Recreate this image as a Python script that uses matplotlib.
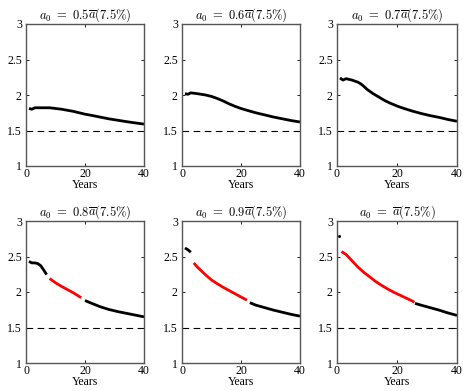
import matplotlib
matplotlib.use("Agg")
import matplotlib.pyplot as plt

plt.rcParams['mathtext.fontset'] = 'cm'
plt.rcParams['font.family'] = ['Liberation Serif', 'DejaVu Serif']

titles = [r"$a_0\ =\ 0.5\overline{a}(7.5\%)$", r"$a_0\ =\ 0.6\overline{a}(7.5\%)$",
          r"$a_0\ =\ 0.7\overline{a}(7.5\%)$", r"$a_0\ =\ 0.8\overline{a}(7.5\%)$",
          r"$a_0\ =\ 0.9\overline{a}(7.5\%)$", r"$a_0\ =\ \overline{a}(7.5\%)$"]

# Panel 1 (0.5)
p1_x = [1, 2, 3, 5, 8, 10, 12, 14, 16, 18, 20, 22, 25, 28, 31, 34, 37, 40]
p1_y = [1.81, 1.80, 1.82, 1.82, 1.82, 1.81, 1.80, 1.785, 1.77, 1.75, 1.73, 1.715, 1.69, 1.665, 1.645, 1.625, 1.607, 1.59]
# Panel 2 (0.6)
p2_x = [1, 2, 3, 5, 8, 10, 12, 14, 16, 18, 20, 22, 25, 28, 31, 34, 37, 40]
p2_y = [2.02, 2.01, 2.03, 2.02, 2.00, 1.98, 1.95, 1.915, 1.875, 1.84, 1.81, 1.785, 1.75, 1.72, 1.69, 1.665, 1.64, 1.62]
# Panel 3 (0.7)
p3_x = [1, 2, 3, 5, 7, 8, 9, 10, 12, 14, 16, 18, 20, 22, 25, 28, 31, 34, 37, 40]
p3_y = [2.24, 2.21, 2.23, 2.21, 2.18, 2.155, 2.12, 2.08, 2.02, 1.97, 1.92, 1.88, 1.845, 1.815, 1.775, 1.74, 1.71, 1.685, 1.655, 1.63]
# Panel 4 (0.8)
p4_bx1 = [1, 2, 3, 4, 5, 6, 7]
p4_by1 = [2.43, 2.41, 2.41, 2.40, 2.37, 2.31, 2.245]
p4_rx = [8, 10, 12, 14, 16, 18.7]
p4_ry = [2.19, 2.13, 2.08, 2.035, 1.99, 1.92]
p4_bx2 = [20, 22, 25, 28, 31, 34, 37, 40]
p4_by2 = [1.88, 1.845, 1.795, 1.755, 1.725, 1.70, 1.675, 1.65]
# Panel 5 (0.9)
p5_bx1 = [1, 2, 3]
p5_by1 = [2.62, 2.595, 2.56]
p5_rx = [4, 5, 6, 8, 10, 12, 14, 16, 18, 20, 22]
p5_ry = [2.41, 2.36, 2.32, 2.24, 2.17, 2.115, 2.065, 2.02, 1.975, 1.93, 1.885]
p5_bx2 = [23, 25, 28, 31, 34, 37, 40]
p5_by2 = [1.85, 1.815, 1.78, 1.745, 1.715, 1.685, 1.66]
# Panel 6 (1.0)
p6_bx1 = [0.5]
p6_by1 = [2.79]
p6_rx = [1.5, 2, 3, 5, 7, 9, 11, 13, 15, 17, 19, 21, 23, 25, 25.8]
p6_ry = [2.57, 2.555, 2.53, 2.44, 2.35, 2.275, 2.21, 2.145, 2.09, 2.04, 1.995, 1.955, 1.915, 1.875, 1.855]
p6_bx2 = [26, 28, 31, 34, 37, 40]
p6_by2 = [1.84, 1.815, 1.78, 1.745, 1.705, 1.67]

benchmark = 1.5
xticks = [0, 20, 40]
yticks = [1, 1.5, 2, 2.5, 3]
ytick_labels = ["1", "1.5", "2", "2.5", "3"]

fig = plt.figure(figsize=(4.63, 3.91), dpi=100)
W, H = 463, 391
lefts = [26, 182, 337]
widths = [118, 118, 120]
tops = [24, 221]
hgt = 142

panels = [
    [(p1_x, p1_y, 'k')],
    [(p2_x, p2_y, 'k')],
    [(p3_x, p3_y, 'k')],
    [(p4_bx1, p4_by1, 'k'), (p4_rx, p4_ry, 'r'), (p4_bx2, p4_by2, 'k')],
    [(p5_bx1, p5_by1, 'k'), (p5_rx, p5_ry, 'r'), (p5_bx2, p5_by2, 'k')],
    [(p6_bx1, p6_by1, 'k'), (p6_rx, p6_ry, 'r'), (p6_bx2, p6_by2, 'k')],
]

for i in range(6):
    r, c = divmod(i, 3)
    ax = fig.add_axes([lefts[c] / W, 1 - (tops[r] + hgt) / H, widths[c] / W, hgt / H])
    for xs, ys, col in panels[i]:
        if len(xs) == 1:
            ax.plot(xs, ys, 's', color=col, ms=1.0)
        else:
            ax.plot(xs, ys, '-', color=col, lw=2.0, solid_capstyle='butt',
                    solid_joinstyle='round')
    ax.axhline(benchmark, color='k', ls=(0, (6, 4)), lw=0.8)
    ax.set_xlim(0, 40)
    ax.set_ylim(1, 3)
    ax.set_xticks(xticks)
    ax.set_yticks(yticks)
    ax.set_yticklabels(ytick_labels)
    ax.tick_params(direction='in', top=True, right=True, length=2.5, width=0.6,
                   labelsize=8.5, pad=3)
    ax.tick_params(axis='x', pad=1.5)
    for s in ax.spines.values():
        s.set_color('#555555')
        s.set_linewidth(1.0)
    ax.set_xlabel("Years", fontsize=8.5, labelpad=-1)
    ax.set_title(titles[i], fontsize=9, pad=4)

fig.savefig("out.png", dpi=100)
